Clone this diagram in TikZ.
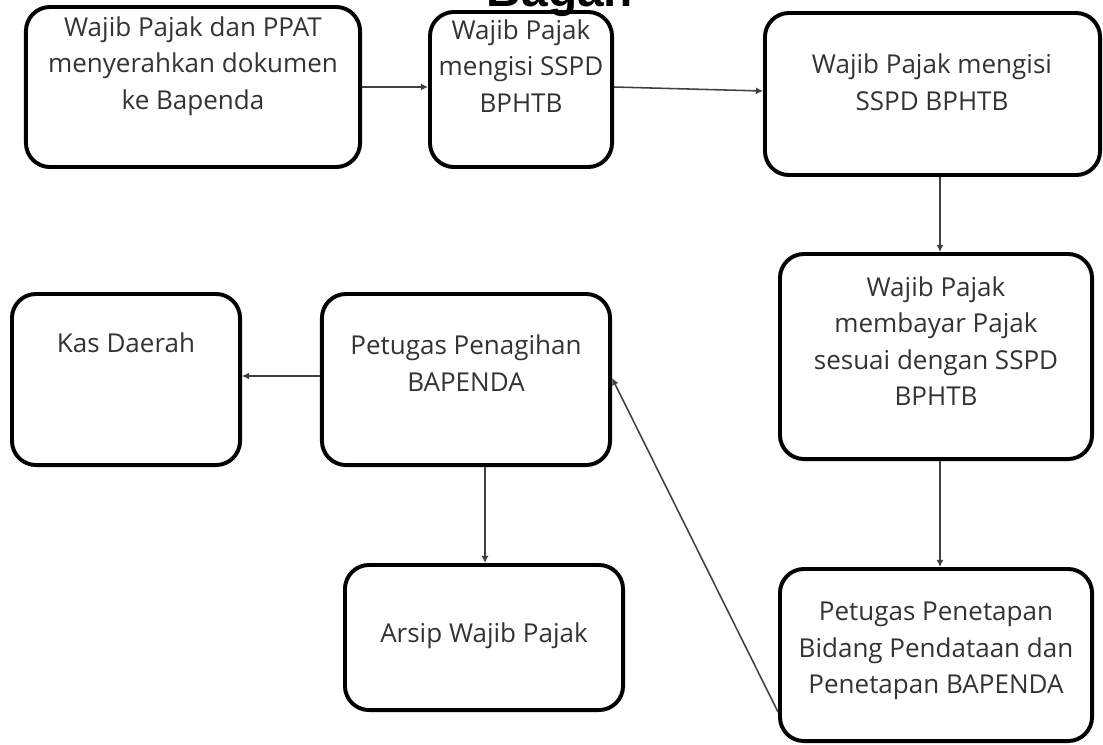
\documentclass[tikz,border=0pt]{standalone}
\usepackage{fontspec}
\setmainfont{Open Sans}
\newfontfamily\titlefont{Liberation Sans}
\usetikzlibrary{arrows.meta}
\begin{document}
\begin{tikzpicture}[x=0.025cm, y=-0.025cm,
box_style/.style={draw=black, line width=2.8pt, rounded corners=0.6cm, inner sep=0pt},
text_style/.style={align=center, text=black!80, font=\fontsize{18.5}{26}\selectfont},
edge_style/.style={draw=black!75, line width=1.1pt, -{Latex[length=5pt,width=5pt]}}]
\useasboundingbox (0,0) rectangle (1103,744);
\clip (0,0) rectangle (1103,744);
% judul (terpotong)
\node[font=\titlefont\bfseries\fontsize{34}{40}\selectfont, anchor=base] (judul) at (560,6) {Bagan};
% kotak
\node[box_style, minimum width=8.35cm, minimum height=4.0cm] (a) at (193,87) {};
\node[box_style, minimum width=4.55cm, minimum height=3.875cm] (b) at (521,89.5) {};
\node[box_style, minimum width=8.375cm, minimum height=4.05cm] (c) at (932.5,94) {};
\node[box_style, minimum width=7.8cm, minimum height=5.125cm] (d) at (936,356.5) {};
\node[box_style, minimum width=7.8cm, minimum height=4.3cm] (e) at (936,655) {};
\node[box_style, minimum width=7.2cm, minimum height=4.275cm] (f) at (466,379.5) {};
\node[box_style, minimum width=5.7cm, minimum height=4.275cm] (g) at (126,379.5) {};
\node[box_style, minimum width=6.95cm, minimum height=3.625cm] (h) at (484,637.5) {};
% teks
\node[text_style] (ta) at (193,66) {Wajib Pajak dan PPAT\\menyerahkan dokumen\\ke Bapenda};
\node[text_style] (tb) at (521,66) {Wajib Pajak\\mengisi SSPD\\BPHTB};
\node[text_style] (tc) at (932,82) {Wajib Pajak mengisi\\SSPD BPHTB};
\node[text_style] (td) at (936,341) {Wajib Pajak\\membayar Pajak\\sesuai dengan SSPD\\BPHTB};
\node[text_style] (te) at (936,651) {Petugas Penetapan\\Bidang Pendataan dan\\Penetapan BAPENDA};
\node[text_style] (tf) at (466,363) {Petugas Penagihan\\BAPENDA};
\node[text_style] (tg) at (126,343) {Kas Daerah};
\node[text_style] (th) at (484,636) {Arsip Wajib Pajak};
% panah
\draw[edge_style] (a.east |- 0,87) -- (b.west |- 0,87);
\draw[edge_style] (b.east |- 0,87) -- (c.west |- 0,91);
\draw[edge_style] (c.south -| 940,0) -- (d.north -| 940,0);
\draw[edge_style] (d.south -| 940,0) -- (e.north -| 940,0);
\draw[edge_style] (e.west |- 0,712) -- (f.east |- 0,378);
\draw[edge_style] (f.west |- 0,376) -- (g.east |- 0,376);
\draw[edge_style] (f.south -| 485,0) -- (h.north -| 485,0);
\end{tikzpicture}
\end{document}
